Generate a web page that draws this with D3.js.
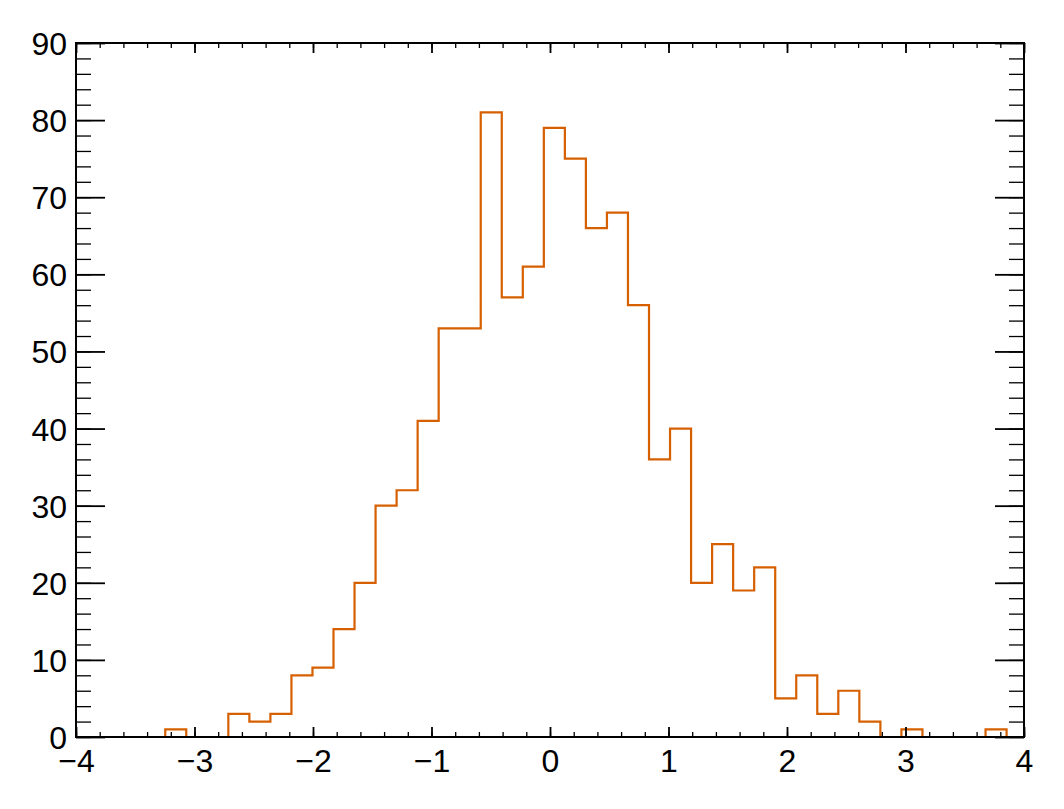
<!DOCTYPE html>
<html>
<head>
<meta charset="utf-8">
<script src="https://cdn.jsdelivr.net/npm/d3@7"></script>
<style>
html, body { margin: 0; padding: 0; background: #fff; }
svg { display: block; }
text { font-family: "Liberation Sans", Arial, Helvetica, sans-serif; }
</style>
</head>
<body>
<svg id="chart" width="1064" height="809"></svg>
<script>
// Histogram: 40 bins, first edge and width
const binStart = -3.247;
const binWidth = 0.1775;
const counts = [1, 0, 0, 3, 2, 3, 8, 9, 14, 20,
                30, 32, 41, 53, 53, 81, 57, 61, 79, 75,
                66, 68, 56, 36, 40, 20, 25, 19, 22, 5,
                8, 3, 6, 2, 0, 1, 0, 0, 0, 1];
const xMajorTicks = [-4, -3, -2, -1, 0, 1, 2, 3, 4];
const xMinorTicks = d3.range(-4, 4.0001, 0.2).map(v => +v.toFixed(2));
const yMajorTicks = [0, 10, 20, 30, 40, 50, 60, 70, 80, 90];
const yMinorTicks = d3.range(0, 90.001, 2);
const xDomain = [-4, 4];
const yDomain = [0, 90];

const L = 76, R = 1024, T = 43, B = 737;
const svg = d3.select("#chart");
const x = d3.scaleLinear().domain(xDomain).range([L, R]);
const y = d3.scaleLinear().domain(yDomain).range([B, T]);

// histogram outline
const pts = [];
pts.push([binStart, 0]);
counts.forEach((c, i) => {
  const e0 = binStart + i * binWidth, e1 = binStart + (i + 1) * binWidth;
  pts.push([e0, c]);
  pts.push([e1, c]);
});
pts.push([binStart + counts.length * binWidth, 0]);
svg.append("path")
  .attr("d", d3.line().x(d => x(d[0])).y(d => y(d[1]))(pts))
  .attr("fill", "none")
  .attr("stroke", "#d65f00")
  .attr("stroke-width", 2.2)
  .attr("stroke-linejoin", "miter");

const fmt = v => (v < 0 ? "\u2212" + Math.abs(v) : "" + v);
const tickColor = "#000";

function styleAxis(g, sw) {
  g.select(".domain").remove();
  g.selectAll(".tick line").attr("stroke", tickColor).attr("stroke-width", sw);
  g.selectAll("text").attr("fill", "#000").style("font-size", "32px")
    .style("font-family", '"Liberation Sans", Arial, Helvetica, sans-serif');
}

// bottom axis
svg.append("g").attr("transform", `translate(0,${B})`)
  .call(d3.axisBottom(x).tickValues(xMinorTicks).tickSize(-5).tickFormat(""))
  .call(g => styleAxis(g, 1.3));
svg.append("g").attr("transform", `translate(0,${B})`)
  .call(d3.axisBottom(x).tickValues(xMajorTicks).tickSize(-10).tickPadding(12).tickFormat(fmt))
  .call(g => styleAxis(g, 1.8));
// top axis
svg.append("g").attr("transform", `translate(0,${T})`)
  .call(d3.axisTop(x).tickValues(xMinorTicks).tickSize(-5).tickFormat(""))
  .call(g => styleAxis(g, 1.3));
svg.append("g").attr("transform", `translate(0,${T})`)
  .call(d3.axisTop(x).tickValues(xMajorTicks).tickSize(-10).tickFormat(""))
  .call(g => styleAxis(g, 1.8));
// left axis
svg.append("g").attr("transform", `translate(${L},0)`)
  .call(d3.axisLeft(y).tickValues(yMinorTicks).tickSize(-15).tickFormat(""))
  .call(g => styleAxis(g, 1.3));
svg.append("g").attr("transform", `translate(${L},0)`)
  .call(d3.axisLeft(y).tickValues(yMajorTicks).tickSize(-29).tickPadding(9).tickFormat(fmt))
  .call(g => styleAxis(g, 1.8))
  .call(g => g.selectAll("text").attr("dy", "0.36em"));
// right axis
svg.append("g").attr("transform", `translate(${R},0)`)
  .call(d3.axisRight(y).tickValues(yMinorTicks).tickSize(-15).tickFormat(""))
  .call(g => styleAxis(g, 1.3));
svg.append("g").attr("transform", `translate(${R},0)`)
  .call(d3.axisRight(y).tickValues(yMajorTicks).tickSize(-29).tickFormat(""))
  .call(g => styleAxis(g, 1.8));

// frame
svg.append("rect")
  .attr("x", L).attr("y", T).attr("width", R - L).attr("height", B - T)
  .attr("fill", "none").attr("stroke", "#000").attr("stroke-width", 2);
</script>
</body>
</html>
